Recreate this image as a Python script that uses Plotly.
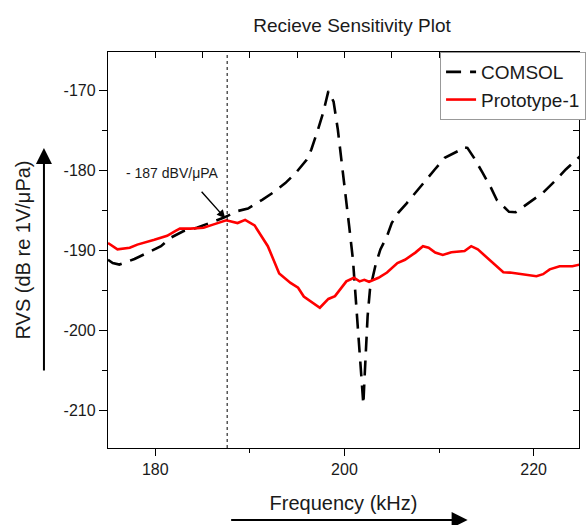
import plotly.graph_objects as go

# ---- data ----
comsol_freq = [175.0, 175.5, 176.2, 177.8, 179.2, 180.6, 181.6, 183.0, 184.4, 186.1, 187.2,
               188.7, 189.8, 191.3, 192.5, 193.75, 194.8, 196.0, 196.5, 197.2, 197.75, 198.3,
               198.85, 199.3, 199.8, 200.2, 200.5, 200.9, 201.1, 201.4, 201.6, 201.85, 202.0,
               202.1, 202.26, 202.45, 202.7, 203.3, 203.8, 204.5, 205.0, 205.7, 206.6, 207.6,
               208.5, 209.55, 210.6, 212.0, 212.5, 213.0, 213.7, 214.6, 215.5, 216.1, 217.4,
               218.1, 218.75, 219.97, 221.0, 222.2, 223.4, 224.5, 224.9]
comsol_rvs = [-191.2, -191.6, -191.8, -191.1, -190.3, -189.5, -188.45, -187.6, -187.2, -186.4, -185.95,
              -185.1, -184.8, -183.7, -182.75, -181.6, -180.4, -178.7, -177.4, -174.9, -172.8, -170.1,
              -171.4, -174.9, -179.7, -183.7, -187.0, -191.2, -194.5, -199.0, -202.0, -205.75, -209.3,
              -206.6, -202.4, -198.25, -194.9, -191.8, -189.9, -188.25, -186.6, -185.3, -184.1, -182.6,
              -181.4, -179.9, -178.45, -177.6, -177.1, -177.2, -178.45, -180.3, -182.2, -183.7, -185.2,
              -185.25, -184.7, -183.7, -182.8, -181.4, -179.9, -178.7, -178.25]

proto_freq = [175.0, 176.0, 177.3, 178.1, 179.9, 181.25, 182.1, 182.6, 183.7, 185.1, 186.1, 187.5,
              188.7, 189.5, 190.5, 191.9, 193.1, 194.3, 195.1, 195.7, 197.4, 198.3, 199.0, 200.2,
              201.0, 201.6, 202.1, 202.6, 203.6, 204.5, 205.6, 206.4, 207.5, 208.3, 208.9, 209.6,
              210.4, 211.3, 212.7, 213.4, 214.1, 215.5, 216.8, 217.5, 218.9, 220.3, 221.0, 221.7,
              222.75, 224.1, 224.9]
proto_rvs = [-189.1, -189.9, -189.7, -189.3, -188.7, -188.2, -187.6, -187.3, -187.3, -187.2, -186.8, -186.25,
             -186.6, -186.2, -186.9, -189.5, -192.9, -194.1, -194.7, -195.8, -197.2, -196.1, -195.75, -193.9,
             -193.45, -193.9, -193.7, -193.95, -193.45, -192.8, -191.6, -191.2, -190.3, -189.5, -189.7, -190.3,
             -190.6, -190.25, -190.1, -189.5, -189.9, -191.4, -192.75, -192.8, -193.0, -193.25, -193.0, -192.4,
             -192.0, -192.0, -191.8]

x_tick_vals = [180, 200, 220]
x_tick_text = ["180", "200", "220"]
y_tick_vals = [-170, -180, -190, -200, -210]
y_tick_text = ["-170", "-180", "-190", "-200", "-210"]

marker_freq = 187.6
marker_rvs = -186.0
marker_text = "- 187 dBV/\u03bcPA"

x_range = [175, 224.8]
y_range = [-214.75, -165.2]

FONT = "Arial, Liberation Sans, sans-serif"
INK = "#1a1a1a"

# plot-area pixel geometry (for placing decorations in paper coords)
PL, PR, PT, PB = 108, 586, 52, 448
PW, PH = PR - PL, PB - PT


def px(xp):
    return (xp - PL) / PW


def py(yp):
    return (PB - yp) / PH


fig = go.Figure()
fig.add_trace(go.Scatter(x=comsol_freq, y=comsol_rvs, mode="lines", name="COMSOL",
                         line=dict(color="black", width=2.6, dash="15px,9px")))
fig.add_trace(go.Scatter(x=proto_freq, y=proto_rvs, mode="lines", name="Prototype-1",
                         line=dict(color="#ff0000", width=2.6)))
# empty trace so the mirrored top/right frame axes are drawn
fig.add_trace(go.Scatter(x=[], y=[], xaxis="x2", yaxis="y2", showlegend=False,
                         hoverinfo="skip"))

fig.add_shape(type="line", x0=marker_freq, x1=marker_freq, y0=0, y1=1, xref="x", yref="paper",
              line=dict(color="black", width=1, dash="dot"))

# marker arrow + label
fig.add_annotation(x=187.4, y=marker_rvs, xref="x", yref="y", text="", showarrow=True,
                   ax=-25, ay=-28, arrowhead=2, arrowsize=1.2, arrowwidth=1.4, arrowcolor="black")
fig.add_annotation(x=px(173), y=py(173), xref="paper", yref="paper", text=marker_text,
                   showarrow=False, font=dict(family=FONT, size=14, color=INK),
                   xanchor="center", yanchor="middle")

# axis direction arrows
fig.add_annotation(x=px(43), y=py(148), xref="paper", yref="paper", text="",
                   showarrow=True, ax=0, ay=224, arrowhead=2, arrowsize=1.6, arrowwidth=2,
                   arrowcolor="black")
fig.add_annotation(x=px(473), y=py(520), xref="paper", yref="paper", text="",
                   showarrow=True, ax=-238, ay=0, arrowhead=2, arrowsize=1.6, arrowwidth=2,
                   arrowcolor="black")

fig.update_layout(
    width=587, height=525,
    margin=dict(l=PL, r=587 - PR, t=PT, b=525 - PB),
    paper_bgcolor="white", plot_bgcolor="white",
    font=dict(family=FONT, color=INK),
    title=dict(text="Recieve Sensitivity Plot", x=352 / 587, xanchor="center", xref="container",
               y=1 - 25 / 525, yanchor="middle", yref="container",
               font=dict(family=FONT, size=19, color=INK)),
    showlegend=True,
    legend=dict(x=px(445), xanchor="left", y=1, yanchor="top",
                bgcolor="white", bordercolor="#999999", borderwidth=1,
                font=dict(family=FONT, size=19, color=INK), tracegroupgap=0, itemwidth=30),
    xaxis=dict(range=x_range, showgrid=False, zeroline=False, showline=True, linecolor="black",
               linewidth=1.3, ticks="outside", tickmode="array", tickvals=x_tick_vals,
               ticktext=x_tick_text, ticklen=7, tickwidth=1.3,
               tickcolor="black", tickfont=dict(family=FONT, size=16, color=INK),
               minor=dict(ticks="outside", dtick=10, tick0=180, ticklen=4, tickwidth=1.3,
                          tickcolor="black", showgrid=False),
               title=dict(text="Frequency (kHz)", font=dict(family=FONT, size=20, color=INK),
                          standoff=18)),
    yaxis=dict(range=y_range, showgrid=False, zeroline=False, showline=True, linecolor="black",
               linewidth=1.3, ticks="outside", tickmode="array", tickvals=y_tick_vals,
               ticktext=y_tick_text, ticklen=8, tickwidth=1.3,
               tickcolor="black", tickfont=dict(family=FONT, size=16, color=INK),
               minor=dict(ticks="outside", dtick=5, tick0=-170, ticklen=5, tickwidth=1.3,
                          tickcolor="black", showgrid=False),
               title=dict(text="RVS (dB re 1V/\u03bcPa)", font=dict(family=FONT, size=20, color=INK),
                          standoff=27)),
    xaxis2=dict(range=x_range, overlaying="x", side="top", anchor="y2", showgrid=False,
                zeroline=False, showline=True, linecolor="black", linewidth=1.3, ticks="inside",
                tick0=180, dtick=5, ticklen=6, tickwidth=1.3, tickcolor="black",
                showticklabels=False, fixedrange=True),
    yaxis2=dict(range=y_range, overlaying="y", side="right", anchor="x2", showgrid=False,
                zeroline=False, showline=True, linecolor="black", linewidth=1.3, ticks="inside",
                tick0=-170, dtick=5, ticklen=6, tickwidth=1.3, tickcolor="black",
                showticklabels=False, fixedrange=True),
)

fig.write_html("out.html", config={"displayModeBar": False},
               post_script="document.body.style.margin='0';document.body.style.overflow='hidden';")
